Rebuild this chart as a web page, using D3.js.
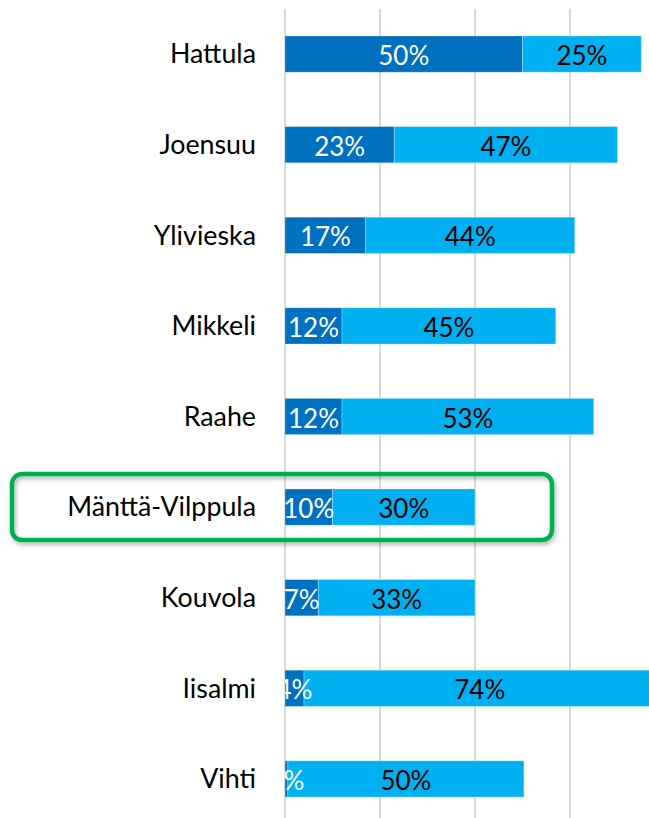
<!DOCTYPE html>
<html>
<head>
<meta charset="utf-8">
<script src="https://cdn.jsdelivr.net/npm/d3@7"></script>
<style>
  body { margin: 0; background: #fff; }
  svg { display: block; }
</style>
</head>
<body>
<div id="chart"></div>
<script>
// data
var cities = ["Hattula", "Joensuu", "Ylivieska", "Mikkeli", "Raahe", "Mänttä-Vilppula", "Kouvola", "Iisalmi", "Vihti"];
var darkShare = [50, 23, 17, 12, 12, 10, 7, 4, 0.6];
var lightShare = [25, 47, 44, 45, 53, 30, 33, 74, 49.7];
var gridTicks = [0, 20, 40, 60, 80];
var highlighted = "Mänttä-Vilppula";

var
	width = 649,
	height = 818,
	left = 285,
	fontFamily = "Lato, 'Noto Sans', sans-serif",

	x = d3.scaleLinear()
		.domain([0, 80])
		.range([left, left + 380]),

	y = d3.scaleBand()
		.domain(cities)
		.range([8.8, 824.2])
		.paddingInner(0.6)
		.paddingOuter(0.3),

	svg = d3.select("#chart")
		.append("svg")
		.attr("width", width)
		.attr("height", height);

var rows = cities.map(function(c, i){
	return {city: c, dark: darkShare[i], light: lightShare[i]};
});

var defs = svg.append("defs");
defs.append("clipPath")
	.attr("id", "plotclip")
	.append("rect")
	.attr("x", left)
	.attr("y", 0)
	.attr("width", width - left)
	.attr("height", height);

var shadow = defs.append("filter")
	.attr("id", "shadow")
	.attr("x", "-10%").attr("y", "-30%")
	.attr("width", "120%").attr("height", "170%");
shadow.append("feDropShadow")
	.attr("dx", 1.5).attr("dy", 2.5)
	.attr("stdDeviation", 2)
	.attr("flood-color", "#000")
	.attr("flood-opacity", 0.3);

// gridlines
svg.append("g")
	.selectAll("line")
	.data(gridTicks)
	.join("line")
	.attr("x1", d => x(d))
	.attr("x2", d => x(d))
	.attr("y1", 9)
	.attr("y2", height)
	.attr("stroke", "#d9d9d9")
	.attr("stroke-width", 2);

// bars
var bars = svg.append("g");
bars.selectAll("rect.dark")
	.data(rows)
	.join("rect")
	.attr("class", "dark")
	.attr("x", x(0))
	.attr("y", d => y(d.city))
	.attr("width", d => x(d.dark) - x(0))
	.attr("height", y.bandwidth())
	.attr("fill", "#0070c0");

bars.selectAll("rect.light")
	.data(rows)
	.join("rect")
	.attr("class", "light")
	.attr("x", d => x(d.dark))
	.attr("y", d => y(d.city))
	.attr("width", d => x(d.dark + d.light) - x(d.dark))
	.attr("height", y.bandwidth())
	.attr("fill", "#00b0f0");

bars.selectAll("rect")
	.attr("stroke", "#fff")
	.attr("stroke-opacity", 0.35)
	.attr("stroke-width", 0.8);

// data labels
var fmt = d => Math.round(d) + "%";
var labels = svg.append("g")
	.attr("clip-path", "url(#plotclip)")
	.attr("font-family", fontFamily)
	.attr("font-size", 26)
	.attr("text-anchor", "middle")
	.attr("dominant-baseline", "central");

labels.selectAll("text.dark")
	.data(rows)
	.join("text")
	.attr("class", "dark")
	.attr("x", d => (x(0) + x(d.dark)) / 2)
	.attr("y", d => y(d.city) + y.bandwidth() / 2 + 1)
	.attr("fill", "#fff")
	.text(d => fmt(d.dark));

labels.selectAll("text.light")
	.data(rows)
	.join("text")
	.attr("class", "light")
	.attr("x", d => (x(d.dark) + x(d.dark + d.light)) / 2)
	.attr("y", d => y(d.city) + y.bandwidth() / 2 + 1)
	.attr("fill", "#000")
	.text(d => fmt(d.light));

// category axis
var yAxis = svg.append("g")
	.attr("transform", "translate(" + (left - 29) + ",0)")
	.call(d3.axisLeft(y).tickSize(0).tickPadding(0));
yAxis.select(".domain").remove();
yAxis.selectAll("text")
	.attr("font-family", fontFamily)
	.attr("font-size", 26.8)
	.attr("fill", "#000")
	.attr("dy", "0.35em");

// highlight box
var hy = y(highlighted) + y.bandwidth() / 2;
svg.append("rect")
	.attr("x", 12)
	.attr("y", hy - 33)
	.attr("width", 540)
	.attr("height", 66)
	.attr("rx", 10)
	.attr("fill", "none")
	.attr("stroke", "#00b050")
	.attr("stroke-width", 4.5)
	.attr("filter", "url(#shadow)");
</script>
</body>
</html>
